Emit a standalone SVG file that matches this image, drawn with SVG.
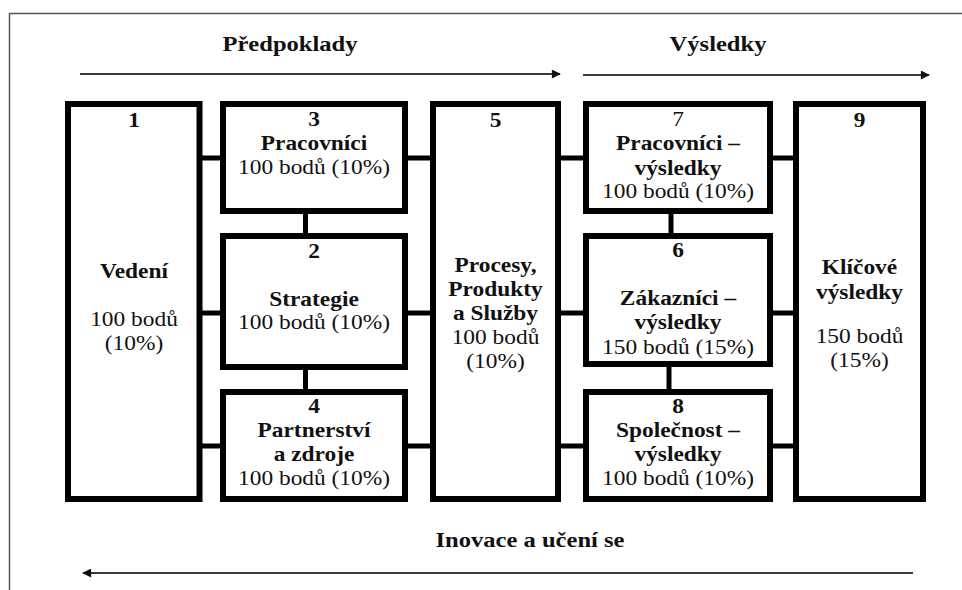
<svg xmlns="http://www.w3.org/2000/svg" width="962" height="590" viewBox="0 0 962 590">
  <style>
    .box { fill: #fff; stroke: #000; stroke-width: 6; }
    .link { stroke: #000; stroke-width: 5; fill: none; }
    .flow { stroke: #3a3a3a; stroke-width: 2; fill: none; }
    .frame { stroke: #555; stroke-width: 1.5; fill: none; }
    text { font-family: "Liberation Serif", "Times New Roman", serif; font-size: 20px; fill: #111; text-anchor: middle; }
    .b { font-weight: bold; }
    .head { font-size: 21px; font-weight: bold; }
  </style>
  <defs>
    <marker id="tip" viewBox="0 0 10 10" refX="9" refY="5" markerWidth="10" markerHeight="9" markerUnits="userSpaceOnUse" orient="auto">
      <path d="M0,0 L10,5 L0,10 Z" fill="#111"/>
    </marker>
  </defs>

  <rect width="962" height="590" fill="#fff"/>
  <!-- page frame -->
  <path class="frame" d="M9.5,590 V13.5 H962"/>

  <!-- phase headings and flow arrows -->
  <g id="phases">
    <g transform="translate(290 0) scale(1.17 1)"><text class="head" x="0" y="51">Předpoklady</text></g>
    <g transform="translate(718 0) scale(1.17 1)"><text class="head" x="0" y="51">Výsledky</text></g>
    <g transform="translate(530 0) scale(1.17 1)"><text class="head" x="0" y="547">Inovace a učení se</text></g>
    <line class="flow" x1="80" y1="74" x2="560" y2="74" marker-end="url(#tip)"/>
    <line class="flow" x1="583" y1="75" x2="929" y2="75" marker-end="url(#tip)"/>
    <line class="flow" x1="913" y1="573" x2="83" y2="573" marker-end="url(#tip)"/>
  </g>

  <!-- connectors between criteria -->
  <g id="connectors">
    <line class="link" x1="199" y1="158" x2="223" y2="158"/>
    <line class="link" x1="199" y1="313" x2="223" y2="313"/>
    <line class="link" x1="199" y1="446" x2="223" y2="446"/>
    <line class="link" x1="405" y1="158" x2="433" y2="158"/>
    <line class="link" x1="405" y1="313" x2="433" y2="313"/>
    <line class="link" x1="405" y1="446" x2="433" y2="446"/>
    <line class="link" x1="558" y1="158" x2="586" y2="158"/>
    <line class="link" x1="558" y1="313" x2="586" y2="313"/>
    <line class="link" x1="558" y1="446" x2="586" y2="446"/>
    <line class="link" x1="770" y1="158" x2="796" y2="158"/>
    <line class="link" x1="770" y1="313" x2="796" y2="313"/>
    <line class="link" x1="770" y1="446" x2="796" y2="446"/>
    <line class="link" x1="305.5" y1="211" x2="305.5" y2="236"/>
    <line class="link" x1="305.5" y1="367" x2="305.5" y2="392"/>
    <line class="link" x1="671" y1="211" x2="671" y2="236"/>
    <line class="link" x1="669" y1="364" x2="669" y2="392"/>
  </g>

  <g id="node1">
    <rect class="box" x="68" y="104" width="131.5" height="395"/>
    <g transform="translate(134 0) scale(1.17 1)">
      <text class="b" x="0" y="127">1</text>
      <text class="b" x="0" y="278">Vedení</text>
      <text x="0" y="326">100 bodů</text>
      <text x="0" y="350">(10%)</text>
    </g>
  </g>

  <g id="node3">
    <rect class="box" x="223" y="104" width="182" height="107"/>
    <g transform="translate(314 0) scale(1.17 1)">
      <text class="b" x="0" y="126">3</text>
      <text class="b" x="0" y="150">Pracovníci</text>
      <text x="0" y="174">100 bodů (10%)</text>
    </g>
  </g>

  <g id="node2">
    <rect class="box" x="223" y="236" width="182" height="131"/>
    <g transform="translate(314 0) scale(1.17 1)">
      <text class="b" x="0" y="258">2</text>
      <text class="b" x="0" y="306">Strategie</text>
      <text x="0" y="329">100 bodů (10%)</text>
    </g>
  </g>

  <g id="node4">
    <rect class="box" x="223" y="392" width="182" height="107"/>
    <g transform="translate(314 0) scale(1.17 1)">
      <text class="b" x="0" y="413">4</text>
      <text class="b" x="0" y="437">Partnerství</text>
      <text class="b" x="0" y="461">a zdroje</text>
      <text x="0" y="485">100 bodů (10%)</text>
    </g>
  </g>

  <g id="node5">
    <rect class="box" x="433" y="104" width="125" height="395"/>
    <g transform="translate(495.5 0) scale(1.17 1)">
      <text class="b" x="0" y="127">5</text>
      <text class="b" x="0" y="272">Procesy,</text>
      <text class="b" x="0" y="296">Produkty</text>
      <text class="b" x="0" y="320">a Služby</text>
      <text x="0" y="344">100 bodů</text>
      <text x="0" y="368">(10%)</text>
    </g>
  </g>

  <g id="node7">
    <rect class="box" x="586" y="104" width="184" height="107"/>
    <g transform="translate(678 0) scale(1.17 1)">
      <text x="0" y="126">7</text>
      <text class="b" x="0" y="150">Pracovníci –</text>
      <text class="b" x="0" y="175">výsledky</text>
      <text x="0" y="198">100 bodů (10%)</text>
    </g>
  </g>

  <g id="node6">
    <rect class="box" x="586" y="236" width="184" height="128"/>
    <g transform="translate(678 0) scale(1.17 1)">
      <text class="b" x="0" y="257">6</text>
      <text class="b" x="0" y="305">Zákazníci –</text>
      <text class="b" x="0" y="329">výsledky</text>
      <text x="0" y="354">150 bodů (15%)</text>
    </g>
  </g>

  <g id="node8">
    <rect class="box" x="586" y="392" width="184" height="107"/>
    <g transform="translate(678 0) scale(1.17 1)">
      <text class="b" x="0" y="413">8</text>
      <text class="b" x="0" y="437">Společnost –</text>
      <text class="b" x="0" y="461">výsledky</text>
      <text x="0" y="485">100 bodů (10%)</text>
    </g>
  </g>

  <g id="node9">
    <rect class="box" x="796" y="104" width="127" height="395"/>
    <g transform="translate(859.5 0) scale(1.17 1)">
      <text class="b" x="0" y="127">9</text>
      <text class="b" x="0" y="274">Klíčové</text>
      <text class="b" x="0" y="299">výsledky</text>
      <text x="0" y="343">150 bodů</text>
      <text x="0" y="367">(15%)</text>
    </g>
  </g>
</svg>
